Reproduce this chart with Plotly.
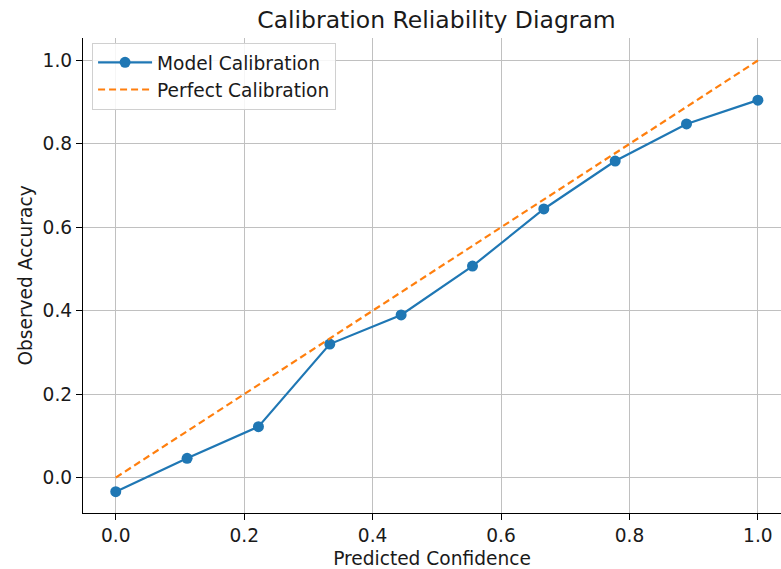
import plotly.graph_objects as go

confidence = [0.0, 1/9, 2/9, 3/9, 4/9, 5/9, 6/9, 7/9, 8/9, 1.0]
accuracy = [-0.034, 0.046, 0.122, 0.320, 0.390, 0.507, 0.644, 0.759, 0.848, 0.905]
perfect_x = [0.0, 1.0]
perfect_y = [0.0, 1.0]
x_ticks = [0.0, 0.2, 0.4, 0.6, 0.8, 1.0]
y_ticks = [0.0, 0.2, 0.4, 0.6, 0.8, 1.0]

FONT = "DejaVu Sans"
TXT = "#1a1a1a"
FS = 18.6

fig = go.Figure()
fig.add_trace(go.Scatter(
    x=confidence, y=accuracy, mode="lines+markers", name="Model Calibration",
    line=dict(color="#1f77b4", width=2.2),
    marker=dict(color="#1f77b4", size=11),
    legendgroup="a",
))
fig.add_trace(go.Scatter(
    x=perfect_x, y=perfect_y, mode="lines", name="Perfect Calibration",
    line=dict(color="#ff7f0e", width=2.2, dash="7px,4px"),
    legendgroup="b",
))

axis_common = dict(
    showline=True, linecolor="black", linewidth=1.2,
    ticks="outside", ticklen=6, tickwidth=1.2, tickcolor="black",
    showgrid=True, gridcolor="#c0c0c0", gridwidth=1.2,
    zeroline=False, tickfont=dict(family=FONT, size=FS, color=TXT),
    tickformat=".1f",
)

fig.update_layout(
    width=781, height=569,
    margin=dict(l=83, r=0, t=38, b=56),
    plot_bgcolor="white", paper_bgcolor="white",
    font=dict(family=FONT, color=TXT),
    title=dict(text="Calibration Reliability Diagram", x=436.5 / 781, xanchor="center",
               y=1 - 20 / 569, yanchor="middle", font=dict(family=FONT, size=23.5, color=TXT)),
    xaxis=dict(range=[-0.051, 1.036], tickvals=x_ticks, mirror=False,
               title=dict(text="Predicted Confidence", font=dict(family=FONT, size=FS), standoff=7),
               **axis_common),
    yaxis=dict(range=[-0.085, 1.054], tickvals=y_ticks, mirror=False,
               title=dict(text="Observed Accuracy", font=dict(family=FONT, size=FS), standoff=5),
               **axis_common),
    showlegend=True,
    legend=dict(x=0.013, y=0.99, xanchor="left", yanchor="top",
                bgcolor="rgba(255,255,255,0.85)", bordercolor="#d0d0d0", borderwidth=1,
                font=dict(family=FONT, size=FS, color=TXT),
                traceorder="grouped", tracegroupgap=0, itemwidth=54),
)

fig.write_html("out.html")
